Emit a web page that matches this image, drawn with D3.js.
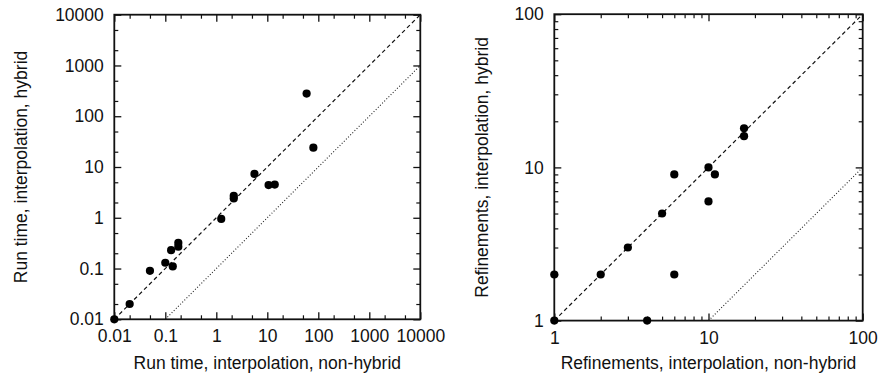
<!DOCTYPE html>
<html>
<head>
<meta charset="utf-8">
<script src="https://cdn.jsdelivr.net/npm/d3@7"></script>
<style>
  body { margin: 0; background: #fff; }
  svg { display: block; }
  text { font-family: "Liberation Sans", Arial, Helvetica, sans-serif; fill: #111; }
</style>
</head>
<body>
<svg id="chart" width="880" height="376"></svg>
<script>
// run time (seconds), non-hybrid vs hybrid
const runtimeNonHybrid = [0.01, 0.02, 0.05, 0.1, 0.13, 0.14, 0.18, 0.18, 1.25, 2.2, 2.2, 5.6, 10.6, 14, 59, 80];
const runtimeHybrid    = [0.01, 0.02, 0.09, 0.13, 0.23, 0.11, 0.32, 0.27, 0.95, 2.7, 2.4, 7.3, 4.4, 4.5, 280, 24];
const runtimeTicks = [0.01, 0.1, 1, 10, 100, 1000, 10000];
const runtimeMinor = [2, 5];

// number of refinements, non-hybrid vs hybrid
const refineNonHybrid = [1, 1, 2, 3, 4, 5, 6, 6, 10, 10, 11, 17, 17];
const refineHybrid    = [1, 2, 2, 3, 1, 5, 9, 2, 10, 6, 9, 18, 16];
const refineTicks = [1, 10, 100];
const refineMinor = [2, 3, 4, 5, 6, 7, 8, 9];

const FONT = 17.5;
const svg = d3.select("#chart");

function minorValues(majors, mults) {
    const out = [];
    majors.slice(0, -1).forEach(m => mults.forEach(k => out.push(m * k)));
    return out;
}

function panel(opts) {
    const {xs, ys, ticks, minor, left, right, top, bottom, xTitle, yTitle, yTitleX} = opts;
    const dom = [ticks[0], ticks[ticks.length - 1]];
    const x = d3.scaleLog().domain(dom).range([left, right]);
    const y = d3.scaleLog().domain(dom).range([bottom, top]);
    const fmt = d => String(d);
    const minors = minorValues(ticks, minor);

    const g = svg.append("g");

    // reference lines: y = x (dashed) and y = x/10 (dotted)
    g.append("line")
        .attr("x1", x(dom[0])).attr("y1", y(dom[0]))
        .attr("x2", x(dom[1])).attr("y2", y(dom[1]))
        .attr("stroke", "#111").attr("stroke-width", 1.2)
        .attr("stroke-dasharray", "4,3");
    g.append("line")
        .attr("x1", x(dom[0] * 10)).attr("y1", y(dom[0]))
        .attr("x2", x(dom[1])).attr("y2", y(dom[1] / 10))
        .attr("stroke", "#222").attr("stroke-width", 1.1)
        .attr("stroke-dasharray", "1,2");

    // axes, ticks pointing inward on all four sides
    const axes = [
        [d3.axisBottom(x), `translate(0,${bottom})`, true],
        [d3.axisTop(x), `translate(0,${top})`, false],
        [d3.axisLeft(y), `translate(${left},0)`, true],
        [d3.axisRight(y), `translate(${right},0)`, false]
    ];
    axes.forEach(([ax, tr, labels]) => {
        const major = g.append("g").attr("transform", tr)
            .call(ax.tickValues(ticks).tickSizeInner(-7).tickSizeOuter(0)
                .tickPadding(labels ? 10.5 : 0)
                .tickFormat(labels ? fmt : ""));
        major.select(".domain").remove();
        major.selectAll("text").attr("font-size", FONT).attr("fill", "#111")
            .style("font-family", "'Liberation Sans', Arial, Helvetica, sans-serif");
        major.selectAll("line").attr("stroke", "#111").attr("stroke-width", 1.3);
        const mn = g.append("g").attr("transform", tr)
            .call(ax.tickValues(minors).tickSizeInner(-4).tickSizeOuter(0).tickFormat(""));
        mn.select(".domain").remove();
        mn.selectAll("line").attr("stroke", "#111").attr("stroke-width", 1.2);
    });

    // frame
    g.append("rect")
        .attr("x", left).attr("y", top)
        .attr("width", right - left).attr("height", bottom - top)
        .attr("fill", "none").attr("stroke", "#111").attr("stroke-width", 1.8);

    // points
    g.append("g").selectAll("circle")
        .data(xs.map((v, i) => [v, ys[i]]))
        .join("circle")
        .attr("cx", d => x(d[0]))
        .attr("cy", d => y(d[1]))
        .attr("r", 4.1)
        .attr("fill", "#000");

    // titles
    g.append("text")
        .attr("x", (left + right) / 2).attr("y", 369)
        .attr("text-anchor", "middle").attr("font-size", FONT)
        .text(xTitle);
    g.append("text")
        .attr("transform", `translate(${yTitleX},${(top + bottom) / 2}) rotate(-90)`)
        .attr("text-anchor", "middle").attr("font-size", FONT)
        .text(yTitle);
}

panel({
    xs: runtimeNonHybrid, ys: runtimeHybrid,
    ticks: runtimeTicks, minor: runtimeMinor,
    left: 114.3, right: 420.3, top: 14.7, bottom: 319.3,
    xTitle: "Run time, interpolation, non-hybrid",
    yTitle: "Run time, interpolation, hybrid",
    yTitleX: 27
});

panel({
    xs: refineNonHybrid, ys: refineHybrid,
    ticks: refineTicks, minor: refineMinor,
    left: 554.3, right: 862.7, top: 14.2, bottom: 320.6,
    xTitle: "Refinements, interpolation, non-hybrid",
    yTitle: "Refinements, interpolation, hybrid",
    yTitleX: 488
});
</script>
</body>
</html>
